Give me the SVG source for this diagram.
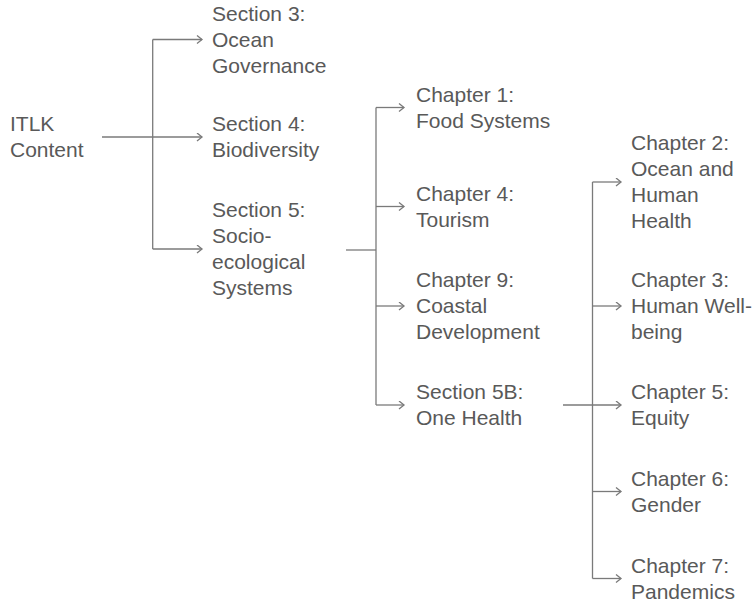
<svg xmlns="http://www.w3.org/2000/svg" width="753" height="608" viewBox="0 0 753 608">
<defs>
<marker id="arr" markerUnits="userSpaceOnUse" markerWidth="8" markerHeight="10" refX="6" refY="4.5" orient="auto">
<path d="M1,0.5 L6,4.5 L1,8.5" fill="none" stroke="#7a7a7a" stroke-width="1.3"/>
</marker>
<style>
text{font-family:"Liberation Sans",Arial,sans-serif;font-size:21px;fill:#595959}
.c path{fill:none;stroke:#7a7a7a;stroke-width:1.3}
.a{marker-end:url(#arr)}
</style>
</defs>
<rect width="753" height="608" fill="#ffffff"/>
<g id="connectors" class="c">
<path class="a" d="M102,137 H202"/>
<path d="M152.7,39.5 V249"/>
<path class="a" d="M152.7,39.5 H202"/>
<path class="a" d="M152.7,249 H202"/>
<path d="M346,250 H376"/>
<path d="M376,107.5 V405"/>
<path class="a" d="M376,107.5 H404"/>
<path class="a" d="M376,206.5 H404"/>
<path class="a" d="M376,306 H404"/>
<path class="a" d="M376,405 H404"/>
<path class="a" d="M563,405 H621"/>
<path d="M592.5,182 V578.5"/>
<path class="a" d="M592.5,182 H621"/>
<path class="a" d="M592.5,306 H621"/>
<path class="a" d="M592.5,491.5 H621"/>
<path class="a" d="M592.5,578.5 H621"/>
</g>
<g id="itlk"><text x="10" y="131">ITLK</text><text x="10" y="157">Content</text></g>
<g id="sec3"><text x="212" y="20.5">Section 3:</text><text x="212" y="46.5">Ocean</text><text x="212" y="72.5">Governance</text></g>
<g id="sec4"><text x="212" y="131">Section 4:</text><text x="212" y="157">Biodiversity</text></g>
<g id="sec5"><text x="212" y="217">Section 5:</text><text x="212" y="243">Socio-</text><text x="212" y="269">ecological</text><text x="212" y="295">Systems</text></g>
<g id="ch1"><text x="416" y="102">Chapter 1:</text><text x="416" y="128">Food Systems</text></g>
<g id="ch4"><text x="416" y="200.5">Chapter 4:</text><text x="416" y="226.5">Tourism</text></g>
<g id="ch9"><text x="416" y="287">Chapter 9:</text><text x="416" y="313">Coastal</text><text x="416" y="339">Development</text></g>
<g id="sec5b"><text x="416" y="399">Section 5B:</text><text x="416" y="425">One Health</text></g>
<g id="ch2"><text x="631" y="150">Chapter 2:</text><text x="631" y="176">Ocean and</text><text x="631" y="202">Human</text><text x="631" y="228">Health</text></g>
<g id="ch3"><text x="631" y="287">Chapter 3:</text><text x="631" y="313">Human Well-</text><text x="631" y="339">being</text></g>
<g id="ch5"><text x="631" y="399">Chapter 5:</text><text x="631" y="425">Equity</text></g>
<g id="ch6"><text x="631" y="485.5">Chapter 6:</text><text x="631" y="511.5">Gender</text></g>
<g id="ch7"><text x="631" y="572.5">Chapter 7:</text><text x="631" y="598.5">Pandemics</text></g>
</svg>
